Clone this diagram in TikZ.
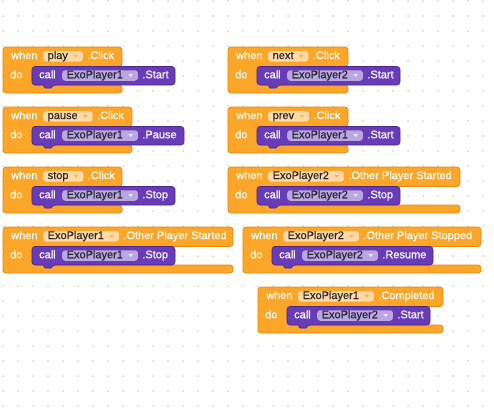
\documentclass[tikz,border=0pt]{standalone}
\usepackage{fontspec}
\setmainfont{Liberation Sans}
\usetikzlibrary{positioning}
\definecolor{evorange}{RGB}{251,166,40}
\definecolor{evedge}{RGB}{224,138,18}
\definecolor{evfield}{RGB}{255,218,168}
\definecolor{cmpurple}{RGB}{103,60,182}
\definecolor{cmedge}{RGB}{76,40,140}
\definecolor{cmfield}{RGB}{185,166,226}
\definecolor{griddot}{RGB}{214,214,214}

% #1 name, #2,#3 top left, #4 header width, #5 call width, #6 source, #7 event, #8 component, #9 method
\newcommand{\evblock}[9]{%
  \begin{scope}[shift={(#2,#3)}]
    \filldraw[evbody] (0,0) -- (#4,0) -- (#4,19.5) -- (29,19.5) -- (29,38) -- (#4,38) -- (#4,46) -- (0,46) -- cycle;
    \filldraw[cmbody] (29,19.5) -- (#5,19.5) -- (#5,38) -- (50,38) [sharp corners] -- (48,41) -- (42,41) -- (40,38) [rounded corners=3] -- (29,38) -- cycle;
    \node[lbl] (#1-when) at (8,9.3) {when};
    \node[fld, fill=evfield] (#1-src) at (40,9.3) {#6\kern10.5pt};
    \fill[evorange!85!white] ([xshift=-10pt,yshift=1.5pt]#1-src.east) -- ++(5,0) -- ++(-2.5,3) -- cycle;
    \node[lbl, right=4pt of #1-src] (#1-evt) {#7};
    \node[lbl] (#1-do) at (7,28.5) {do};
    \node[lbl] (#1-call) at (36,28.5) {call};
    \node[fld, fill=cmfield] (#1-comp) at (59,28.5) {#8\kern10.5pt};
    \fill[white!70!cmfield] ([xshift=-10pt,yshift=1.5pt]#1-comp.east) -- ++(5,0) -- ++(-2.5,3) -- cycle;
    \node[lbl, right=4pt of #1-comp] (#1-meth) {#9};
  \end{scope}}

\begin{document}
\begin{tikzpicture}[x=1pt, y=-1pt,
    evbody/.style={fill=evorange, draw=evedge, line width=0.7pt, rounded corners=3},
    cmbody/.style={fill=cmpurple, draw=cmedge, line width=0.6pt, rounded corners=3},
    lbl/.style={anchor=west, inner sep=0pt, text=white, font=\fontsize{11}{11}\selectfont\addfontfeature{FakeBold=0.6}, text height=8pt, text depth=2.5pt},
    fld/.style={anchor=west, inner xsep=4.5pt, inner ysep=0pt, rounded corners=3, text=black!85, font=\fontsize{11}{11}\selectfont\addfontfeature{FakeBold=0.3}, text height=8pt, text depth=2.5pt}]
  \useasboundingbox (0,0) rectangle (494,415);
  \fill[white] (0,0) rectangle (494,415);
  \foreach \i in {0,...,32}
    \foreach \j in {0,...,27}
      \fill[griddot] (3+15*\i,1+15*\j) circle (1);

  \evblock{play}{3}{47}{119}{172}{play}{.Click}{ExoPlayer1}{.Start}
  \evblock{pause}{3}{107}{129}{181}{pause}{.Click}{ExoPlayer1}{.Pause}
  \evblock{stop}{3}{167}{119}{172}{stop}{.Click}{ExoPlayer1}{.Stop}
  \evblock{startA}{3}{227}{230}{172}{ExoPlayer1}{.Other Player Started}{ExoPlayer1}{.Stop}
  \evblock{next}{228}{47}{120}{172}{next}{.Click}{ExoPlayer2}{.Start}
  \evblock{prev}{228}{107}{120}{172}{prev}{.Click}{ExoPlayer1}{.Start}
  \evblock{startB}{228}{167}{232}{172}{ExoPlayer2}{.Other Player Started}{ExoPlayer2}{.Stop}
  \evblock{stopB}{243}{227}{238}{190}{ExoPlayer2}{.Other Player Stopped}{ExoPlayer2}{.Resume}
  \evblock{done}{258}{287}{185}{172}{ExoPlayer1}{.Completed}{ExoPlayer2}{.Start}
\end{tikzpicture}
\end{document}
